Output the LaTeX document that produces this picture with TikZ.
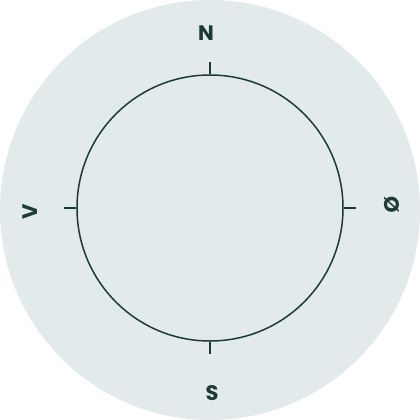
\documentclass[tikz,border=0pt]{standalone}
\usepackage{fontspec}
\setmainfont{Poppins}
\definecolor{bg}{HTML}{E2EAEC}
\definecolor{ink}{HTML}{1B3B36}
\begin{document}
\begin{tikzpicture}[x=1pt,y=-1pt,
  lbl/.style={text=ink,font=\fontsize{21}{21}\selectfont\bfseries,inner sep=0pt},
  tick/.style={draw=ink,line width=1.3pt}]
\useasboundingbox (0,0) rectangle (420,420);
\fill[bg] (210,210) circle[radius=210];
\node[circle,draw=ink,line width=1.5pt,minimum size=266pt,inner sep=0pt] (c) at (210,208) {};
\coordinate (tn) at (210,62);
\coordinate (ts) at (210,354);
\coordinate (tw) at (64,208);
\coordinate (te) at (356,208);
\draw[tick] (c.north) -- (tn);
\draw[tick] (c.south) -- (ts);
\draw[tick] (c.west) -- (tw);
\draw[tick] (c.east) -- (te);
\node[lbl] (n) at (206,33) {N};
\node[lbl] (s) at (212,393) {S};
\node[lbl,rotate=90] (v) at (30,212) {V};
\node[lbl,rotate=-90] (o) at (392,205) {Ø};
\end{tikzpicture}
\end{document}
